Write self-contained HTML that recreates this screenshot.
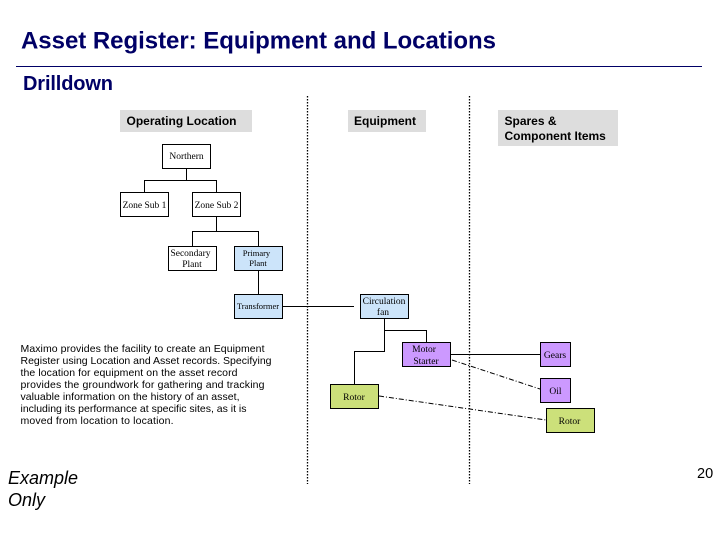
<!DOCTYPE html>
<html><head><meta charset="utf-8"><style>
html,body{margin:0;padding:0;background:#fff;width:720px;height:540px;overflow:hidden}
svg{display:block}
text{font-family:"Liberation Sans",sans-serif}
.s{font-family:"Liberation Serif",serif;font-size:9.5px;fill:#000;text-anchor:middle}
.h{font-size:12px;font-weight:bold;fill:#000}
.b{font-size:10.5px;fill:#000}
.n{stroke:#000;stroke-width:1}
.l{stroke:#000;stroke-width:1;fill:none}
</style></head><body>
<svg width="720" height="540" viewBox="0 0 720 540" xmlns="http://www.w3.org/2000/svg">
<rect width="720" height="540" fill="#fff"/>
<text x="21" y="48.500" font-size="24" font-weight="bold" fill="#000066" textLength="475" lengthAdjust="spacing">Asset Register: Equipment and Locations</text>
<line x1="16" y1="66.500" x2="702" y2="66.500" stroke="#000066" stroke-width="1"/>
<text x="23" y="90" font-size="20" font-weight="bold" fill="#000066" textLength="90" lengthAdjust="spacing">Drilldown</text>

<line x1="307.500" y1="96" x2="307.500" y2="484" stroke="#000" stroke-width="1.300" stroke-dasharray="1.500 1.500"/>
<line x1="469.500" y1="96" x2="469.500" y2="484" stroke="#000" stroke-width="1.300" stroke-dasharray="1.500 1.500"/>

<rect x="120" y="110" width="132" height="22" fill="#dddddd"/>
<rect x="348" y="110" width="78" height="22" fill="#dddddd"/>
<rect x="498" y="110" width="120" height="36" fill="#dddddd"/>
<text class="h" x="126.500" y="125">Operating Location</text>
<text class="h" x="354" y="125">Equipment</text>
<text class="h" x="504.500" y="125">Spares &amp;</text>
<text class="h" x="504.500" y="140">Component Items</text>

<path class="l" d="M186.500 168V180.500M144.500 192V180.500H216.500V192M216.500 216V231.500M192.500 246V231.500H258.500V246M258.500 270V294M283 306.500H354M384.500 318V351.500H354.500V384M384.500 330.500H426.500V342M451 354.500H540"/>
<path class="l" d="M452 360L540 389" stroke-dasharray="5 2 1 2"/>
<path class="l" d="M379 396L546 420" stroke-dasharray="5 2 1 2"/>

<rect class="n" x="162.500" y="144.500" width="48" height="24" fill="#fff"/>
<text class="s" x="186.500" y="159">Northern</text>
<rect class="n" x="120.500" y="192.500" width="48" height="24" fill="#fff"/>
<text class="s" x="144.500" y="208">Zone Sub 1</text>
<rect class="n" x="192.500" y="192.500" width="48" height="24" fill="#fff"/>
<text class="s" x="216.500" y="208">Zone Sub 2</text>
<rect class="n" x="168.500" y="246.500" width="48" height="24" fill="#fff"/>
<text class="s" x="190.500" y="256">Secondary</text>
<text class="s" x="192" y="267">Plant</text>
<rect class="n" x="234.500" y="246.500" width="48" height="24" fill="#cce4fa"/>
<text class="s" x="256.500" y="256" style="font-size:8.500px">Primary</text>
<text class="s" x="258" y="266" style="font-size:8.500px">Plant</text>
<rect class="n" x="234.500" y="294.500" width="48" height="24" fill="#cce4fa"/>
<text class="s" x="258" y="309" style="font-size:8.500px">Transformer</text>
<rect class="n" x="360.500" y="294.500" width="48" height="24" fill="#cce4fa"/>
<text class="s" x="384" y="304">Circulation</text>
<text class="s" x="383" y="315">fan</text>
<rect class="n" x="402.500" y="342.500" width="48" height="24" fill="#cc99ff"/>
<text class="s" x="424" y="352">Motor</text>
<text class="s" x="426" y="364">Starter</text>
<rect class="n" x="330.500" y="384.500" width="48" height="24" fill="#cce07a"/>
<text class="s" x="354" y="400">Rotor</text>
<rect class="n" x="540.500" y="342.500" width="30" height="24" fill="#cc99ff"/>
<text class="s" x="555" y="358">Gears</text>
<rect class="n" x="540.500" y="378.500" width="30" height="24" fill="#cc99ff"/>
<text class="s" x="555.500" y="394">Oil</text>
<rect class="n" x="546.500" y="408.500" width="48" height="24" fill="#cce07a"/>
<text class="s" x="569.500" y="424">Rotor</text>

<text class="b" x="20.500" y="352" textLength="244" lengthAdjust="spacing">Maximo provides the facility to create an Equipment</text>
<text class="b" x="20.500" y="364" textLength="251" lengthAdjust="spacing">Register using Location and Asset records.  Specifying</text>
<text class="b" x="20.500" y="376" textLength="217" lengthAdjust="spacing">the location for equipment on the asset record</text>
<text class="b" x="20.500" y="388" textLength="244" lengthAdjust="spacing">provides the groundwork for gathering and tracking</text>
<text class="b" x="20.500" y="400" textLength="219" lengthAdjust="spacing">valuable information on the history of an asset,</text>
<text class="b" x="20.500" y="412" textLength="226" lengthAdjust="spacing">including its performance at specific sites, as it is</text>
<text class="b" x="20.500" y="424" textLength="153" lengthAdjust="spacing">moved from location to location.</text>

<text x="8" y="484" font-size="18" font-style="italic" fill="#000">Example</text>
<text x="8" y="506" font-size="18" font-style="italic" fill="#000">Only</text>
<text x="697" y="478" font-size="14.500" fill="#000">20</text>
</svg>
</body></html>
